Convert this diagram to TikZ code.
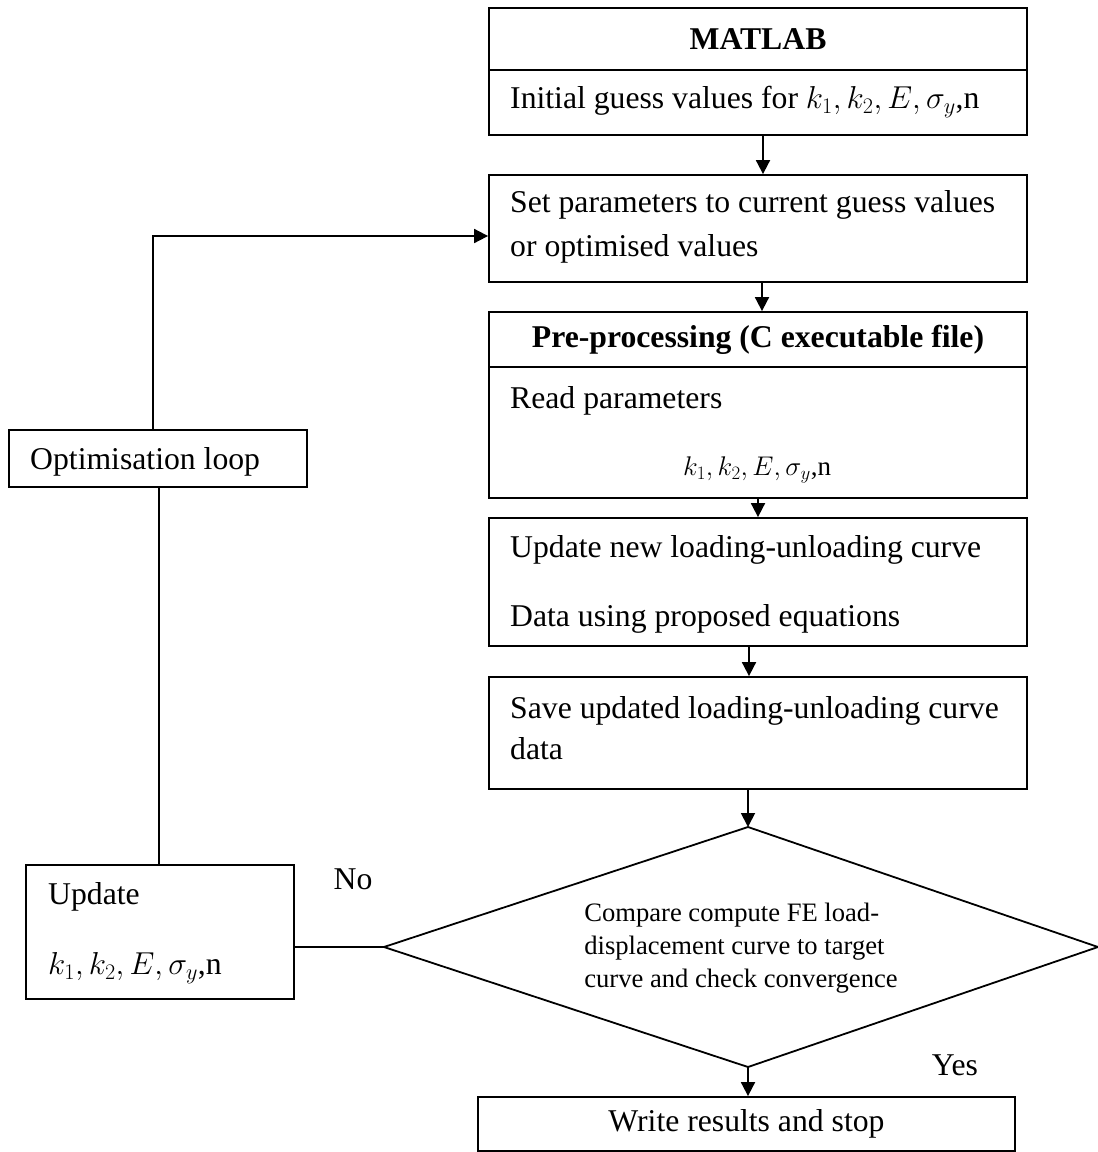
\RequirePackage{fix-cm}
\documentclass[tikz,border=0pt]{standalone}
\usepackage{fontspec}
\setmainfont{Liberation Serif}
\usetikzlibrary{arrows.meta}
\newcommand\mainfs{\fontsize{31.7}{38}\selectfont}
\newcommand\diafs{\fontsize{26.6}{33}\selectfont}
\newcommand\mathfs{\fontsize{27}{32}\selectfont}
\begin{document}
\begin{tikzpicture}[x=1pt,y=-1pt,
  every node/.style={font=\mainfs, inner sep=0pt},
  box/.style={draw, line width=1.8pt, inner sep=0pt},
  txt/.style={anchor=mid west},
  ln/.style={line width=1.8pt},
  arr/.style={line width=1.8pt, -{Triangle[length=14pt,width=14pt]}}]
\useasboundingbox (0,0) rectangle (1098,1152);
% main column boxes
\node[box, minimum width=538pt, minimum height=62pt] (b1h) at (758,39) {\bfseries MATLAB};
\node[box, minimum width=538pt, minimum height=65pt] (b1b) at (758,102.5) {};
\node[box, minimum width=538pt, minimum height=107pt] (b2) at (758,228.5) {};
\node[box, minimum width=538pt, minimum height=55pt] (b3h) at (758,339.5) {\bfseries Pre-processing (C executable file)};
\node[box, minimum width=538pt, minimum height=131pt] (b3b) at (758,432.5) {};
\node[box, minimum width=538pt, minimum height=128pt] (b4) at (758,582) {};
\node[box, minimum width=538pt, minimum height=112pt] (b5) at (758,733) {};
\node[box, minimum width=537pt, minimum height=54pt] (wr) at (746.5,1124) {Write results and stop};
% left boxes
\node[box, minimum width=298pt, minimum height=57pt] (opt) at (158,458.5) {};
\node[box, minimum width=268pt, minimum height=134pt] (upd) at (160,932) {};
% texts
\node[txt] (t1) at (510,106) {Initial guess values for $k_1, k_2, E, \sigma_y$,n};
\node[txt] (t2a) at (510,210) {Set parameters to current guess values};
\node[txt] (t2b) at (510,254) {or optimised values};
\node[txt] (t3a) at (510,406) {Read parameters};
\node[font=\mathfs] (t3b) at (757,470) {$k_1, k_2, E, \sigma_y$,n};
\node[txt] (t4a) at (510,555) {Update new loading-unloading curve};
\node[txt] (t4b) at (510,624) {Data using proposed equations};
\node[txt] (t5a) at (510,716) {Save updated loading-unloading curve};
\node[txt] (t5b) at (510,757) {data};
\node[txt] (topt) at (30,467) {Optimisation loop};
\node[txt] (tu1) at (48,902) {Update};
\node[txt] (tu2) at (48,972) {$k_1, k_2, E, \sigma_y$,n};
\node (yes) at (955,1065) {Yes};
\node (no) at (353,879) {No};
% decision diamond
\coordinate (dt) at (748,827);
\coordinate (dr) at (1098,947);
\coordinate (db) at (748,1067);
\coordinate (dl) at (384,947);
\draw[ln, line join=miter] (dt) -- (dr) -- (db) -- (dl) -- cycle;
\node[font=\diafs, align=left] (dtext) at (741,948) {Compare compute FE load-\\displacement curve to target\\curve and check convergence};
% arrow columns
\coordinate (a1) at (763,0);
\coordinate (a2) at (762,0);
\coordinate (a3) at (758,0);
\coordinate (a4) at (749,0);
\coordinate (a5) at (748,0);
\draw[arr] (b1b.south -| a1) -- (b2.north -| a1);
\draw[arr] (b2.south -| a2) -- (b3h.north -| a2);
\draw[arr] (b3b.south -| a3) -- (b4.north -| a3);
\draw[arr] (b4.south -| a4) -- (b5.north -| a4);
\draw[arr] (b5.south -| a5) -- (dt);
\draw[arr] (db) -- (wr.north -| db);
% loop
\coordinate (lp) at (153,236);
\coordinate (lq) at (159,0);
\draw[arr] (opt.north -| lp) -- (lp) -- (lp -| b2.west);
\draw[ln] (opt.south -| lq) -- (upd.north -| lq);
\draw[ln] (dl) -- (dl -| upd.east);
\end{tikzpicture}
\end{document}
